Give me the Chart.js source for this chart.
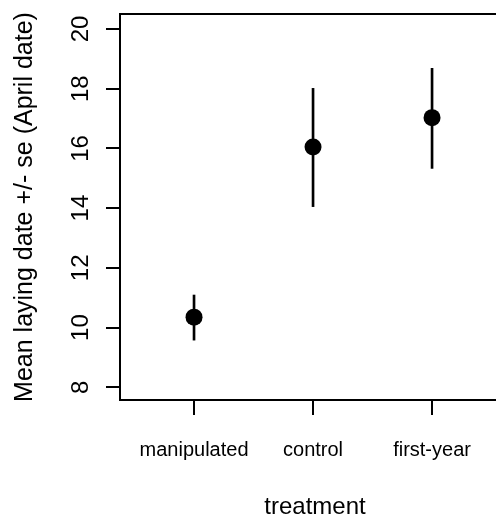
<!DOCTYPE html>
<html>
<head>
<meta charset="utf-8">
<script src="https://cdn.jsdelivr.net/npm/chart.js@4"></script>
<style>
  html, body { margin: 0; padding: 0; background: #fff; overflow: hidden; }
  #wrap { width: 496px; height: 517px; overflow: hidden; }
</style>
</head>
<body>
<div id="wrap"><canvas id="chart" width="510" height="517"></canvas></div>
<script>
// categories and values
const treatments = ["manipulated", "control", "first-year"];
const xPos = [1, 2, 3];
const meanDate = [10.35, 16.05, 17.03];
const lowerSe = [9.58, 14.05, 15.33];
const upperSe = [11.09, 18.01, 18.68];
const yTicks = [8, 10, 12, 14, 16, 18, 20];

const FONT = "'Liberation Sans', Arial, Helvetica, sans-serif";

// build datasets
const points = xPos.map((x, i) => ({ x: x, y: meanDate[i] }));
const bars = xPos.map((x, i) => ({ x: x, y: [lowerSe[i], upperSe[i]] }));

const ctx = document.getElementById("chart").getContext("2d");
new Chart(ctx, {
    type: "scatter",
    data: {
        datasets: [
            { type: "bar", data: bars, backgroundColor: "#000", borderWidth: 0, barThickness: 2, order: 1 },
            { type: "scatter", data: points, backgroundColor: "#000", borderColor: "#000",
              pointRadius: 8.5, pointHoverRadius: 8.5, borderWidth: 0, order: 0 }
        ]
    },
    options: {
        responsive: false,
        animation: false,
        layout: { padding: 0, autoPadding: false },
        plugins: { legend: { display: false }, tooltip: { enabled: false } },
        scales: {
            x: {
                type: "linear", position: "bottom", min: 0.378, max: 3.655, offset: false,
                afterBuildTicks: s => { s.ticks = xPos.map(v => ({ value: v })); },
                afterFit: s => { s.height = 117; s.paddingLeft = 0; s.paddingRight = 0; },
                grid: { display: true, offset: false, drawOnChartArea: false, drawTicks: true, tickLength: 15, color: "#000", lineWidth: 2 },
                border: { display: true, color: "#000", width: 2 },
                ticks: {
                    color: "#000", font: { family: FONT, size: 20 }, padding: 23, maxRotation: 0, autoSkip: false,
                    callback: v => treatments[xPos.indexOf(v)]
                },
                title: { display: true, text: "treatment", color: "#000", font: { family: FONT, size: 24 }, padding: { top: 0, bottom: -5 } }
            },
            x2: {
                type: "linear", position: "top", min: 0.378, max: 3.655,
                afterFit: s => { s.height = 14; s.paddingLeft = 0; s.paddingRight = 0; },
                grid: { display: false, drawTicks: false },
                border: { display: true, color: "#000", width: 2 },
                ticks: { display: false }
            },
            y: {
                type: "linear", position: "left", min: 7.575, max: 20.5,
                afterBuildTicks: s => { s.ticks = yTicks.map(v => ({ value: v })); },
                afterFit: s => { s.width = 120; s.paddingTop = 0; s.paddingBottom = 0; },
                grid: { display: true, drawOnChartArea: false, drawTicks: true, tickLength: 14, color: "#000", lineWidth: 2 },
                border: { display: true, color: "#000", width: 2 },
                ticks: {
                    color: "#000", font: { family: FONT, size: 24 }, padding: 11,
                    minRotation: 90, maxRotation: 90, crossAlign: "center"
                },
                title: { display: true, text: "Mean laying date +/- se (April date)", color: "#000",
                         font: { family: FONT, size: 25 }, padding: { top: 10, bottom: 0 } }
            }
        }
    }
});
</script>
</body>
</html>
